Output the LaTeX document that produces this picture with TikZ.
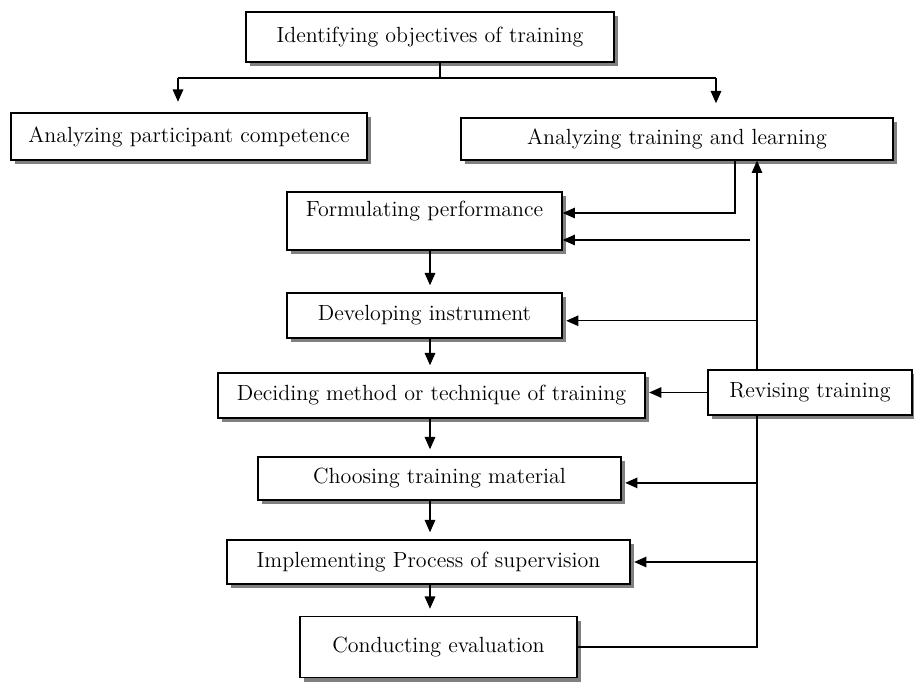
\documentclass[tikz,border=0pt]{standalone}
\usetikzlibrary{arrows.meta,shadows}

\begin{document}
\begin{tikzpicture}[x=0.02cm, y=-0.02cm,
        box/.style={draw, line width=0.8pt, fill=white, inner sep=2pt,
            font=\fontsize{12.5}{14}\selectfont,
            drop shadow={fill=black!50, opacity=1, shadow xshift=2.5pt, shadow yshift=-2.5pt}},
        arr/.style={line width=0.8pt, -{Triangle[length=7pt, width=6pt]}},
        ln/.style={line width=0.8pt}]
        \useasboundingbox (0, 0) rectangle (914, 682);

        \node[box, minimum width=7.36cm, minimum height=1.0cm] (obj) at (430, 37) {Identifying objectives of training};
        \node[box, minimum width=7.12cm, minimum height=0.94cm] (comp) at (189, 136.5) {Analyzing participant competence};
        \node[box, minimum width=8.64cm, minimum height=0.84cm] (anal) at (677, 139) {Analyzing training and learning};
        \node[box, minimum width=5.5cm, inner sep=0.1cm, text height=0.4cm, text depth=0.56cm] (form) at (424.5, 221) {Formulating performance};
        \node[box, minimum width=5.5cm, minimum height=0.9cm] (dev) at (424.5, 315.5) {Developing instrument};
        \node[box, minimum width=8.54cm, minimum height=0.9cm] (meth) at (431.5, 395.5) {Deciding method or technique of training};
        \node[box, minimum width=4.08cm, minimum height=0.9cm] (rev) at (810, 392.5) {Revising training};
        \node[box, minimum width=7.26cm, minimum height=0.86cm] (mat) at (439.5, 478.5) {Choosing training material};
        \node[box, minimum width=8.06cm, minimum height=0.88cm] (impl) at (428.5, 562) {Implementing Process of supervision};
        \node[box, minimum width=5.54cm, minimum height=1.22cm] (eval) at (438.5, 647) {Conducting evaluation};

        \coordinate (split) at (440, 78);
        \coordinate (left) at (178, 78);
        \coordinate (right) at (716, 78);
        \coordinate (mid) at (430, 0);
        \coordinate (bus) at (757, 0);
        \coordinate (back) at (735, 213);
        \coordinate (gap) at (750, 240);

        \draw[ln] (obj.south -| split) -- (split);
        \draw[ln] (left) -- (right);
        \draw[arr, shorten >=6pt] (left) -- (comp.north -| left);
        \draw[arr, shorten >=8pt] (right) -- (anal.north -| right);

        \draw[arr] (anal.south -| back) -- (back) -- (form.east |- back);
        \draw[arr] (gap) -- (form.east |- gap);
        \draw[arr] (rev.north -| bus) -- (anal.south -| bus);
        \draw[arr] ([yshift=-3pt]dev.east -| bus) -- ([xshift=2pt, yshift=-3pt]dev.east);
        \draw[arr] (rev.west) -- ([xshift=2pt]meth.east |- rev.west);
        \draw[ln] (rev.south -| bus) -- (eval.east -| bus) -- (eval.east);
        \draw[arr] ([yshift=-2.5pt]mat.east -| bus) -- ([xshift=2pt, yshift=-2.5pt]mat.east);
        \draw[arr] (impl.east -| bus) -- ([xshift=2pt]impl.east);

        \draw[arr, shorten >=4pt] (form.south -| mid) -- (dev.north -| mid);
        \draw[arr, shorten >=4pt] (dev.south -| mid) -- (meth.north -| mid);
        \draw[arr, shorten >=4pt] (meth.south -| mid) -- (mat.north -| mid);
        \draw[arr, shorten >=4pt] (mat.south -| mid) -- (impl.north -| mid);
        \draw[arr, shorten >=4pt] (impl.south -| mid) -- (eval.north -| mid);
    \end{tikzpicture}
\end{document}
